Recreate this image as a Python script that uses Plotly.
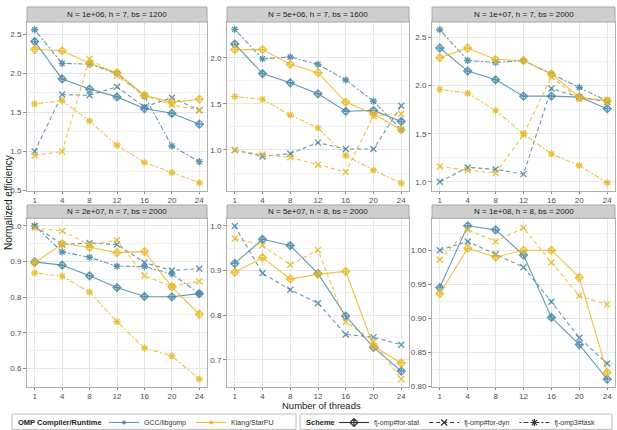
import plotly.graph_objects as go

threads = ['1', '4', '8', '12', '16', '20', '24']
panel_titles = ['N = 1e+06, h = 7, bs = 1200', 'N = 5e+06, h = 7, bs = 1600',
                'N = 1e+07, h = 7, bs = 2000', 'N = 2e+07, h = 7, bs = 2000',
                'N = 5e+07, h = 8, bs = 2000', 'N = 1e+08, h = 8, bs = 2000']
compilers = ['GCC/libgomp', 'Klang/StarPU']
schemes = ['fj-omp#for-stat', 'fj-omp#for-dyn', 'fj-omp3#task']

# panel 1
p1_gcc_stat = [2.41, 1.93, 1.80, 1.70, 1.55, 1.49, 1.35]
p1_klang_stat = [2.31, 2.29, 2.13, 2.01, 1.72, 1.63, 1.67]
p1_gcc_dyn = [1.00, 1.73, 1.72, 1.83, 1.57, 1.69, 1.53]
p1_klang_dyn = [0.95, 1.00, 2.19, 1.97, 1.72, 1.60, 1.53]
p1_gcc_task = [2.56, 2.13, 2.12, 2.00, 1.71, 1.07, 0.87]
p1_klang_task = [1.61, 1.65, 1.39, 1.08, 0.86, 0.73, 0.60]
# panel 2
p2_gcc_stat = [2.15, 1.83, 1.73, 1.61, 1.42, 1.43, 1.31]
p2_klang_stat = [2.09, 2.09, 1.93, 1.84, 1.52, 1.39, 1.22]
p2_gcc_dyn = [1.00, 0.93, 0.96, 1.08, 1.01, 1.01, 1.48]
p2_klang_dyn = [1.00, 0.95, 0.92, 0.84, 0.76, 1.37, 1.39]
p2_gcc_task = [2.31, 1.99, 2.01, 1.93, 1.76, 1.53, 1.22]
p2_klang_task = [1.58, 1.55, 1.38, 1.24, 0.94, 0.78, 0.64]
# panel 3
p3_gcc_stat = [2.39, 2.15, 2.06, 1.89, 1.89, 1.88, 1.76]
p3_klang_stat = [2.29, 2.39, 2.27, 2.26, 2.12, 1.88, 1.84]
p3_gcc_dyn = [1.00, 1.15, 1.13, 1.08, 1.97, 1.88, 1.83]
p3_klang_dyn = [1.16, 1.12, 1.09, 1.49, 2.09, 1.86, 1.85]
p3_gcc_task = [2.58, 2.26, 2.24, 2.26, 2.12, 1.98, 1.84]
p3_klang_task = [1.96, 1.92, 1.74, 1.50, 1.29, 1.17, 0.99]
# panel 4
p4_gcc_stat = [0.899, 0.890, 0.860, 0.827, 0.802, 0.801, 0.810]
p4_klang_stat = [0.896, 0.950, 0.940, 0.925, 0.928, 0.829, 0.752]
p4_gcc_dyn = [1.000, 0.948, 0.952, 0.948, 0.897, 0.875, 0.880]
p4_klang_dyn = [0.994, 0.986, 0.947, 0.960, 0.860, 0.830, 0.845]
p4_gcc_task = [1.000, 0.927, 0.912, 0.887, 0.886, 0.865, 0.810]
p4_klang_task = [0.868, 0.859, 0.814, 0.731, 0.657, 0.635, 0.570]
# panel 5
p5_gcc_stat = [0.916, 0.970, 0.956, 0.893, 0.798, 0.728, 0.675]
p5_klang_stat = [0.896, 0.929, 0.881, 0.892, 0.898, 0.731, 0.693]
p5_gcc_dyn = [1.000, 0.894, 0.857, 0.827, 0.757, 0.751, 0.734]
p5_klang_dyn = [0.972, 0.956, 0.913, 0.946, 0.785, 0.742, 0.657]
# panel 6
p6_gcc_stat = [0.945, 1.036, 1.030, 0.993, 0.901, 0.861, 0.810]
p6_klang_stat = [0.936, 1.003, 0.990, 1.000, 1.000, 0.960, 0.820]
p6_gcc_dyn = [1.000, 1.013, 0.994, 0.975, 0.924, 0.871, 0.833]
p6_klang_dyn = [0.986, 1.030, 1.013, 1.033, 0.982, 0.933, 0.920]

panels = [
    {'gcc': [p1_gcc_stat, p1_gcc_dyn, p1_gcc_task], 'klang': [p1_klang_stat, p1_klang_dyn, p1_klang_task]},
    {'gcc': [p2_gcc_stat, p2_gcc_dyn, p2_gcc_task], 'klang': [p2_klang_stat, p2_klang_dyn, p2_klang_task]},
    {'gcc': [p3_gcc_stat, p3_gcc_dyn, p3_gcc_task], 'klang': [p3_klang_stat, p3_klang_dyn, p3_klang_task]},
    {'gcc': [p4_gcc_stat, p4_gcc_dyn, p4_gcc_task], 'klang': [p4_klang_stat, p4_klang_dyn, p4_klang_task]},
    {'gcc': [p5_gcc_stat, p5_gcc_dyn, None], 'klang': [p5_klang_stat, p5_klang_dyn, None]},
    {'gcc': [p6_gcc_stat, p6_gcc_dyn, None], 'klang': [p6_klang_stat, p6_klang_dyn, None]},
]

y_ranges = [[0.50, 2.66], [0.56, 2.39], [0.91, 2.66], [0.5485, 1.0215], [0.64, 1.017], [0.799, 1.047]]
y_ticks = [[0.5, 1.0, 1.5, 2.0, 2.5], [1.0, 1.5, 2.0], [1.0, 1.5, 2.0, 2.5],
           [0.6, 0.7, 0.8, 0.9, 1.0], [0.7, 0.8, 0.9, 1.0], [0.80, 0.85, 0.90, 0.95, 1.00]]
y_minor = [0.25, 0.25, 0.25, 0.05, 0.05, 0.025]
y_fmt = ['.1f', '.1f', '.1f', '.1f', '.1f', '.2f']

colors = {'gcc': 'rgba(70,135,168,0.85)', 'klang': 'rgba(234,183,40,0.85)'}
dashes = ['solid', '4px,3px', '2px,2px,5px,2px']
symbols = ['diamond-cross-open', 'x-thin-open', 'asterisk-open']

W, H = 617, 430
col_px = [(27, 207), (227, 409), (432, 615)]
row_px = [(22, 190.5), (218.3, 386.7)]
strip_px = [(7, 22), (205, 218.3)]

fig = go.Figure()
layout = {}
shapes = []
annotations = []
FONT = 'Liberation Sans, Arial'
tickfont = dict(family=FONT, size=8, color='#4d4d4d')

for i, pdata in enumerate(panels):
    r, c = divmod(i, 3)
    ax = '' if i == 0 else str(i + 1)
    xd = [col_px[c][0] / W, col_px[c][1] / W]
    yd = [1 - row_px[r][1] / H, 1 - row_px[r][0] / H]
    layout['xaxis' + ax] = dict(
        domain=xd, type='category', categoryorder='array', categoryarray=threads,
        range=[-0.28, 6.28], anchor='y' + ax, showline=True, mirror=True, automargin=False,
        linecolor='#b0b0b0', linewidth=1, showgrid=True, gridcolor='#e6e6e6', gridwidth=1,
        ticks='outside', ticklen=2, tickcolor='#8a8a8a', tickfont=tickfont, zeroline=False)
    layout['yaxis' + ax] = dict(
        domain=yd, range=y_ranges[i], anchor='x' + ax, tickvals=y_ticks[i], automargin=False,
        tickformat=y_fmt[i], showline=True, mirror=True, linecolor='#b0b0b0', linewidth=1,
        showgrid=True, gridcolor='#e6e6e6', gridwidth=1, zeroline=False,
        minor=dict(showgrid=True, dtick=y_minor[i], tick0=0, gridcolor='#f2f2f2', gridwidth=0.6),
        ticks='outside', ticklen=3, tickcolor='#8a8a8a', tickfont=tickfont)
    for comp in ['gcc', 'klang']:
        for s in range(3):
            vals = pdata[comp][s]
            if vals is None:
                continue
            fig.add_trace(go.Scatter(
                x=threads, y=vals, mode='lines+markers', xaxis='x' + ax, yaxis='y' + ax,
                line=dict(color=colors[comp], width=1.1, dash=dashes[s]),
                marker=dict(symbol=symbols[s], size=6, color=colors[comp], line=dict(width=1.4, color=colors[comp])),
                showlegend=False, hoverinfo='skip'))
    sy = [1 - strip_px[r][1] / H, 1 - strip_px[r][0] / H]
    shapes.append(dict(type='rect', xref='paper', yref='paper', x0=xd[0], x1=xd[1], y0=sy[0], y1=sy[1],
                       fillcolor='#cfcfcf', line=dict(color='#a8a8a8', width=1), layer='above'))
    annotations.append(dict(text=panel_titles[i], xref='paper', yref='paper', x=(xd[0] + xd[1]) / 2,
                            y=(sy[0] + sy[1]) / 2, showarrow=False, xanchor='center', yanchor='middle',
                            font=dict(family=FONT, size=8, color='#1a1a1a')))

annotations.append(dict(text='Number of threads', xref='paper', yref='paper', x=321 / W, y=1 - 405.5 / H,
                        xanchor='center', yanchor='middle',
                        showarrow=False, font=dict(family=FONT, size=9.5, color='#1a1a1a')))
annotations.append(dict(text='Normalized efficiency', xref='paper', yref='paper', x=8 / W, y=1 - 203 / H,
                        xanchor='center', yanchor='middle', textangle=-90, showarrow=False,
                        font=dict(family=FONT, size=10, color='#1a1a1a')))

# legend boxes (frames and titles); the entries are drawn by plotly legends
LEG_Y = 422.5
box1 = (12, 296)
box2 = (300, 612)
for (bx0, bx1), title in [(box1, 'OMP Compiler/Runtime'), (box2, 'Scheme')]:
    shapes.append(dict(type='rect', xref='paper', yref='paper', x0=bx0 / W, x1=bx1 / W,
                       y0=0.6 / H, y1=(H - 414) / H, fillcolor='white',
                       line=dict(color='#bdbdbd', width=1), layer='below'))
    annotations.append(dict(text='<b>' + title + '</b>', xref='paper', yref='paper', x=(bx0 + 4) / W,
                            y=1 - LEG_Y / H, xanchor='left', yanchor='middle', showarrow=False,
                            font=dict(family=FONT, size=7.5, color='#1a1a1a')))

for comp, name in zip(['gcc', 'klang'], compilers):
    fig.add_trace(go.Scatter(x=[None], y=[None], mode='lines+markers', name=name, legend='legend',
                             line=dict(color=colors[comp], width=1.1),
                             marker=dict(symbol='circle', size=4, color=colors[comp])))
for s, name in enumerate(schemes):
    fig.add_trace(go.Scatter(x=[None], y=[None], mode='lines+markers', name=name, legend='legend2',
                             line=dict(color='#333333', width=1.1, dash=dashes[s]),
                             marker=dict(symbol=symbols[s], size=6, color='#333333',
                                         line=dict(width=1.2, color='#333333'))))

legfont = dict(family=FONT, size=7, color='#333333')
layout['legend'] = dict(orientation='h', xref='container', yref='container',
                        x=(box1[0] + 92) / W, xanchor='left', y=1 - LEG_Y / H, yanchor='middle',
                        bgcolor='rgba(0,0,0,0)', borderwidth=0, font=legfont, itemwidth=30,
                        tracegroupgap=0)
layout['legend2'] = dict(orientation='h', xref='container', yref='container',
                         x=(box2[0] + 34) / W, xanchor='left', y=1 - LEG_Y / H, yanchor='middle',
                         bgcolor='rgba(0,0,0,0)', borderwidth=0, font=legfont, itemwidth=30,
                         tracegroupgap=0)

fig.update_layout(width=W, height=H, autosize=False,
                  margin=dict(l=0, r=0, t=0, b=0, pad=0, autoexpand=False), plot_bgcolor='white',
                  paper_bgcolor='white', shapes=shapes, annotations=annotations, **layout)
fig.write_html('out.html')
